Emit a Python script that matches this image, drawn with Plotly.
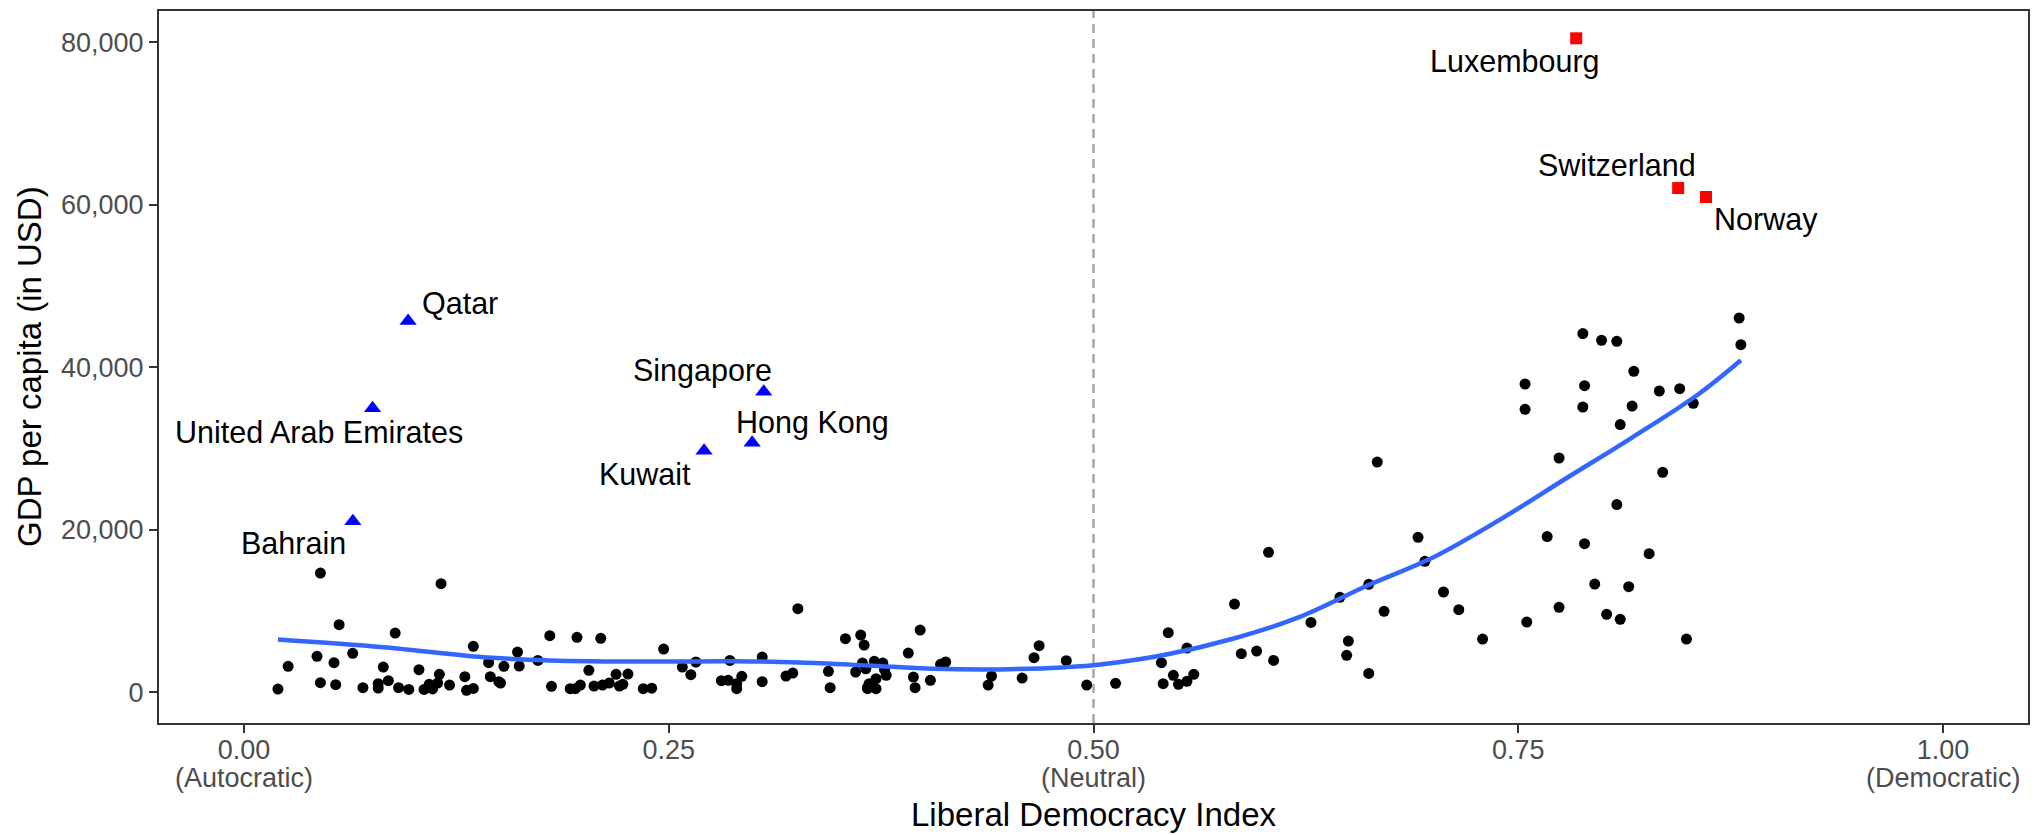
import plotly.graph_objects as go

# ---------------- data ----------------
# other countries (black dots): Liberal Democracy Index, GDP per capita
ldi = [0.020, 0.026, 0.045, 0.043, 0.045, 0.056, 0.053, 0.054, 0.064, 0.070,
       0.079, 0.079, 0.082, 0.085, 0.089, 0.091, 0.097, 0.103, 0.106, 0.109,
       0.111, 0.115, 0.116, 0.114, 0.121, 0.130, 0.131, 0.135, 0.135, 0.144,
       0.145, 0.150, 0.151, 0.153, 0.161, 0.162, 0.173, 0.180, 0.181, 0.192,
       0.195, 0.198, 0.196, 0.203, 0.206, 0.210, 0.211, 0.215, 0.219, 0.221,
       0.223, 0.226, 0.235, 0.240, 0.247, 0.258, 0.263, 0.266, 0.281, 0.285,
       0.286, 0.290, 0.290, 0.293, 0.305, 0.305, 0.319, 0.323, 0.326, 0.344,
       0.345, 0.354, 0.360, 0.363, 0.365, 0.364, 0.366, 0.367, 0.367, 0.372,
       0.368, 0.372, 0.371, 0.376, 0.377, 0.378, 0.391, 0.394, 0.395, 0.398,
       0.404, 0.410, 0.413, 0.438, 0.440, 0.458, 0.465, 0.468, 0.484, 0.496,
       0.513, 0.540, 0.541, 0.544, 0.547, 0.550, 0.555, 0.555, 0.559, 0.583,
       0.587, 0.596, 0.603, 0.606, 0.628, 0.645, 0.650, 0.649, 0.662, 0.662,
       0.667, 0.671, 0.691, 0.695, 0.706, 0.715, 0.729, 0.754, 0.754, 0.755,
       0.767, 0.774, 0.774, 0.788, 0.789, 0.789, 0.795, 0.788, 0.799, 0.808,
       0.818, 0.833, 0.845, 0.817, 0.853, 0.810, 0.880, 0.881, 0.835, 0.808,
       0.827, 0.815, 0.802, 0.810, 0.849]
gdp = [370, 3165, 14655, 4396, 1157, 8300, 3620, 911, 4766, 542,
       1034, 500, 3080, 1403, 7266, 542, 330, 2758, 330, 950,
       380, 2180, 13350, 1100, 862, 1896, 209, 5628, 450, 3620,
       1896, 1280, 1100, 3165, 4926, 3200, 3900, 6946, 700, 420,
       420, 862, 6736, 2672, 740, 6613, 862, 1108, 2180, 740,
       950, 2217, 420, 480, 5296, 3080, 2140, 3700, 1400, 1450,
       3900, 1034, 420, 1940, 4310, 1280, 1970, 2340, 10270, 2550,
       540, 6570, 2470, 7020, 5790, 3570, 2870, 580, 420, 420,
       1034, 1650, 3780, 3570, 2760, 2055, 4800, 1850, 540, 7635,
       1440, 3410, 3700, 862, 1970, 1725, 4236, 5714, 3866, 862,
       1070, 3620, 1034, 7315, 2057, 948, 5420, 1318, 2180, 10840,
       4730, 5050, 17200, 3900, 8580, 11660, 6280, 4520, 13260, 2300,
       28325, 9940, 19050, 16100, 12320, 10150, 6530, 34820, 37930, 8620,
       19140, 10430, 28820, 35100, 37730, 18270, 13300, 44140, 43310, 43190,
       39490, 37070, 37360, 35220, 35550, 32930, 46060, 42780, 27060, 23080,
       17040, 12980, 9570, 8950, 6530]

# autocratic high-income countries (blue triangles)
auto_names = ["Qatar", "United Arab Emirates", "Bahrain", "Singapore", "Hong Kong", "Kuwait"]
auto_ldi = [0.0966, 0.0757, 0.0641, 0.3059, 0.2991, 0.2708]
auto_gdp = [45680, 34950, 21020, 36990, 30690, 29700]

# democratic high-income countries (red squares)
demo_names = ["Luxembourg", "Switzerland", "Norway"]
demo_ldi = [0.7841, 0.8441, 0.8605]
demo_gdp = [80500, 62060, 60960]

# smoothed trend
smooth_x = [0.020, 0.082, 0.141, 0.180, 0.239, 0.288, 0.327, 0.367, 0.406, 0.445,
            0.484, 0.504, 0.543, 0.582, 0.621, 0.660, 0.700, 0.739, 0.778, 0.817,
            0.856, 0.881]
smooth_y = [6480, 5530, 4300, 3900, 3750, 3800, 3650, 3280, 2870, 2790,
            3070, 3400, 4630, 6560, 9220, 12990, 16590, 21200, 26300, 31340,
            36670, 40850]

x_tickvals = [0, 0.25, 0.5, 0.75, 1.0]
x_ticktext = ["0.00", "0.25", "0.50", "0.75", "1.00"]
x_sublabels = {0.0: "(Autocratic)", 0.5: "(Neutral)", 1.0: "(Democratic)"}
y_tickvals = [0, 20000, 40000, 60000, 80000]

# label offsets in pixels (style)
label_offsets = {
    "Qatar": (52, 18), "United Arab Emirates": (-54, -24), "Bahrain": (-59, -22),
    "Singapore": (-61, 21), "Hong Kong": (60, 20), "Kuwait": (-59, -23),
    "Luxembourg": (-61, -23), "Switzerland": (-61, 23), "Norway": (60, -23),
}

FONT = "Liberation Sans, Arial, Helvetica, sans-serif"

fig = go.Figure()
fig.add_trace(go.Scatter(x=ldi, y=gdp, mode="markers",
                         marker=dict(color="black", size=11, line=dict(width=0)),
                         showlegend=False, hoverinfo="skip"))
fig.add_trace(go.Scatter(x=smooth_x, y=smooth_y, mode="lines",
                         line=dict(color="#3366FF", width=4.5, shape="spline", smoothing=1.0),
                         showlegend=False, hoverinfo="skip"))
fig.add_trace(go.Scatter(x=auto_ldi, y=auto_gdp, mode="markers",
                         marker=dict(color="#0000FF", size=15, symbol="triangle-up", line=dict(width=0)),
                         showlegend=False, hoverinfo="skip"))
fig.add_trace(go.Scatter(x=demo_ldi, y=demo_gdp, mode="markers",
                         marker=dict(color="#FF0000", size=12, symbol="square", line=dict(width=0)),
                         showlegend=False, hoverinfo="skip"))

annotations = []
for names, xs, ys in [(auto_names, auto_ldi, auto_gdp), (demo_names, demo_ldi, demo_gdp)]:
    for n, xv, yv in zip(names, xs, ys):
        dx, dy = label_offsets[n]
        annotations.append(dict(x=xv, y=yv, xref="x", yref="y", text=n, showarrow=False,
                                xanchor="center", yanchor="middle", xshift=dx, yshift=dy,
                                font=dict(family=FONT, size=30.5, color="black")))

for xv, t in x_sublabels.items():
    annotations.append(dict(x=xv, y=0, xref="x", yref="paper", text=t, showarrow=False,
                            xanchor="center", yanchor="middle", yshift=-55,
                            font=dict(family=FONT, size=27, color="#4D4D4D")))

annotations.append(dict(x=0.5, y=0, xref="paper", yref="paper", text="Liberal Democracy Index",
                        showarrow=False, xanchor="center", yanchor="middle", yshift=-91,
                        font=dict(family=FONT, size=33, color="black")))
annotations.append(dict(x=0, y=0.5, xref="paper", yref="paper", text="GDP per capita (in USD)",
                        showarrow=False, xanchor="center", yanchor="middle", xshift=-130,
                        textangle=-90, font=dict(family=FONT, size=33, color="black")))

fig.update_layout(
    width=2039, height=835,
    margin=dict(l=159, r=10, t=9, b=112),
    paper_bgcolor="white", plot_bgcolor="white",
    font=dict(family=FONT),
    annotations=annotations,
    shapes=[dict(type="line", x0=0.5, x1=0.5, y0=0, y1=1, xref="x", yref="paper",
                 line=dict(color="#A6A6A6", width=2.5, dash="9px,6px"), layer="below")],
)
fig.update_xaxes(range=[-0.05, 1.05], tickvals=x_tickvals, ticktext=x_ticktext,
                 showgrid=False, zeroline=False, showline=True, mirror=True,
                 linecolor="#333333", linewidth=2, ticks="outside", ticklen=8,
                 tickwidth=2, tickcolor="#333333", ticklabelstandoff=-6,
                 tickfont=dict(family=FONT, size=27, color="#4D4D4D"))
fig.update_yaxes(range=[-3810, 83860], tickvals=y_tickvals, tickformat=",d",
                 showgrid=False, zeroline=False, showline=True, mirror=True,
                 linecolor="#333333", linewidth=2, ticks="outside", ticklen=8,
                 tickwidth=2, tickcolor="#333333",
                 tickfont=dict(family=FONT, size=27, color="#4D4D4D"))

fig.write_html("out.html", config={"displayModeBar": False},
               post_script="document.body.style.margin='0';document.body.style.overflow='hidden';")
